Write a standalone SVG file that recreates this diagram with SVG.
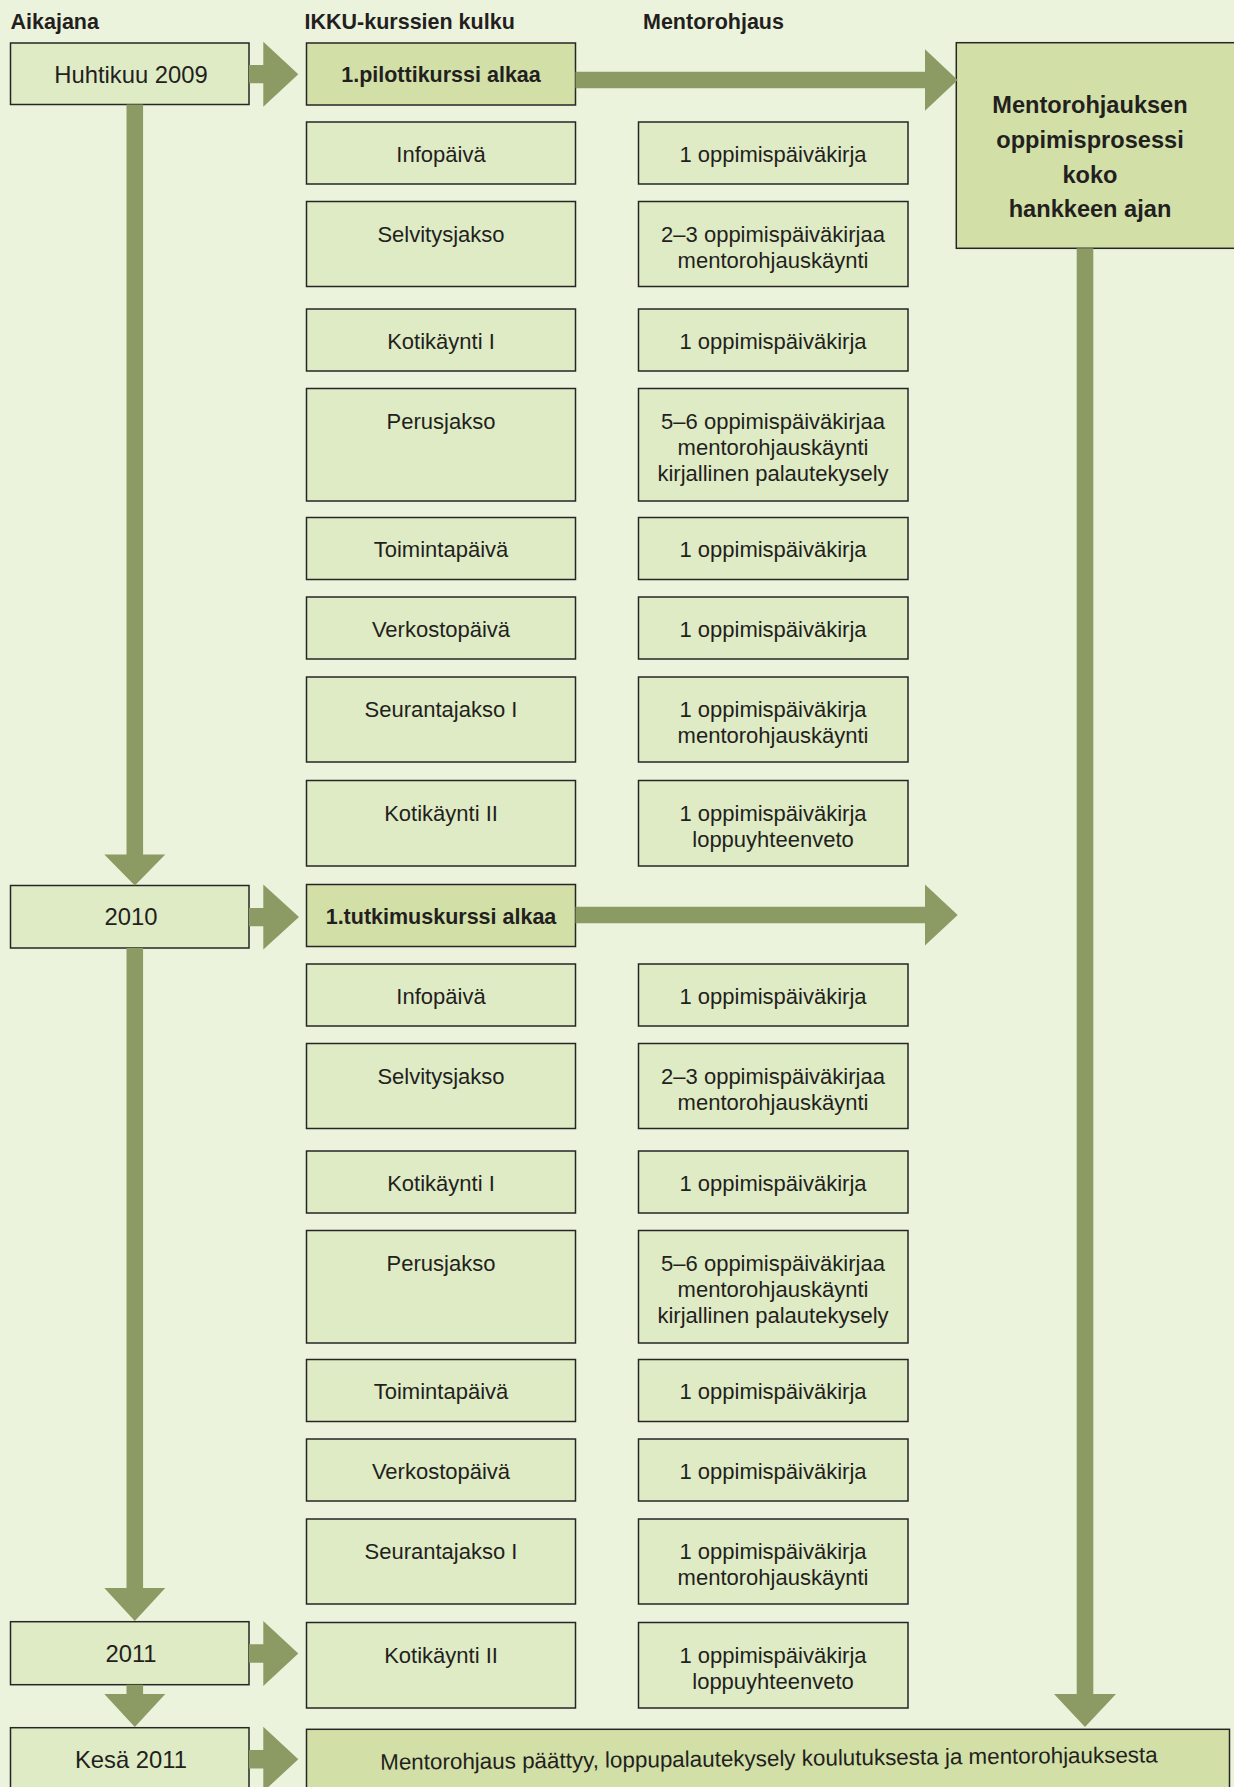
<svg xmlns="http://www.w3.org/2000/svg" width="1234" height="1787" viewBox="0 0 1234 1787">
<style>
.bg{fill:#ECF3DC}
.box{fill:#DFEBC4;stroke:#262626;stroke-width:1.5}
.hbox{fill:#D2DFA7;stroke:#262626;stroke-width:1.5}
.arr{fill:#8C9B64}
text{font-family:"Liberation Sans",Arial,sans-serif;fill:#231F20}
.t{font-size:22px;text-anchor:middle}
.f{font-size:22.4px;text-anchor:middle}
.d{font-size:23.8px;text-anchor:middle}
.b{font-size:21.5px;font-weight:bold;text-anchor:middle}
.h{font-size:21.5px;font-weight:bold}
.big{font-size:23.6px;font-weight:bold;text-anchor:middle}
</style>
<rect class="bg" x="0" y="0" width="1234" height="1787"/>

<g id="headers">
<text class="h" x="10.5" y="29">Aikajana</text>
<text class="h" x="304.5" y="29">IKKU-kurssien kulku</text>
<text class="h" x="643" y="29">Mentorohjaus</text>
</g>

<!-- Timeline -->
<g id="t-huhtikuu"><rect class="box" x="10.5" y="43" width="238.5" height="61.5"/><text class="d" x="131" y="82.5">Huhtikuu 2009</text></g>
<g id="t-2010"><rect class="box" x="10.5" y="885.5" width="238.5" height="62.5"/><text class="d" x="131" y="925">2010</text></g>
<g id="t-2011"><rect class="box" x="10.5" y="1621.7" width="238.5" height="63"/><text class="d" x="131" y="1661.5">2011</text></g>
<g id="t-kesa"><rect class="box" x="10.5" y="1727.7" width="238.5" height="70"/><text class="d" x="131" y="1768">Kesä 2011</text></g>

<!-- Course column, section 1 -->
<g id="c1-start"><rect class="hbox" x="306.5" y="43" width="269" height="62"/><text class="b" x="441" y="82">1.pilottikurssi alkaa</text></g>
<g id="c1-info"><rect class="box" x="306.5" y="122" width="269" height="62"/><text class="t" x="441" y="161.5">Infopäivä</text></g>
<g id="c1-selv"><rect class="box" x="306.5" y="201.5" width="269" height="85"/><text class="t" x="441" y="241.5">Selvitysjakso</text></g>
<g id="c1-koti1"><rect class="box" x="306.5" y="309" width="269" height="62"/><text class="t" x="441" y="348.5">Kotikäynti I</text></g>
<g id="c1-perus"><rect class="box" x="306.5" y="388.5" width="269" height="112.5"/><text class="t" x="441" y="429">Perusjakso</text></g>
<g id="c1-toim"><rect class="box" x="306.5" y="517.5" width="269" height="62"/><text class="t" x="441" y="557">Toimintapäivä</text></g>
<g id="c1-verk"><rect class="box" x="306.5" y="597" width="269" height="62"/><text class="t" x="441" y="636.5">Verkostopäivä</text></g>
<g id="c1-seur"><rect class="box" x="306.5" y="677" width="269" height="85"/><text class="t" x="441" y="717">Seurantajakso I</text></g>
<g id="c1-koti2"><rect class="box" x="306.5" y="780.5" width="269" height="85.5"/><text class="t" x="441" y="820.5">Kotikäynti II</text></g>

<!-- Mentoring column, section 1 -->
<g id="m1-info"><rect class="box" x="638.5" y="122" width="269.5" height="62"/><text class="t" x="773" y="161.5">1 oppimispäiväkirja</text></g>
<g id="m1-selv"><rect class="box" x="638.5" y="201.5" width="269.5" height="85"/><text class="t" x="773" y="241.5">2–3 oppimispäiväkirjaa</text><text class="t" x="773" y="267.5">mentorohjauskäynti</text></g>
<g id="m1-koti1"><rect class="box" x="638.5" y="309" width="269.5" height="62"/><text class="t" x="773" y="348.5">1 oppimispäiväkirja</text></g>
<g id="m1-perus"><rect class="box" x="638.5" y="388.5" width="269.5" height="112.5"/><text class="t" x="773" y="429">5–6 oppimispäiväkirjaa</text><text class="t" x="773" y="455">mentorohjauskäynti</text><text class="t" x="773" y="481">kirjallinen palautekysely</text></g>
<g id="m1-toim"><rect class="box" x="638.5" y="517.5" width="269.5" height="62"/><text class="t" x="773" y="557">1 oppimispäiväkirja</text></g>
<g id="m1-verk"><rect class="box" x="638.5" y="597" width="269.5" height="62"/><text class="t" x="773" y="636.5">1 oppimispäiväkirja</text></g>
<g id="m1-seur"><rect class="box" x="638.5" y="677" width="269.5" height="85"/><text class="t" x="773" y="717">1 oppimispäiväkirja</text><text class="t" x="773" y="743">mentorohjauskäynti</text></g>
<g id="m1-koti2"><rect class="box" x="638.5" y="780.5" width="269.5" height="85.5"/><text class="t" x="773" y="820.5">1 oppimispäiväkirja</text><text class="t" x="773" y="846.5">loppuyhteenveto</text></g>

<!-- Course column, section 2 -->
<g id="c2-start"><rect class="hbox" x="306.5" y="884.5" width="269" height="62"/><text class="b" x="441" y="923.5">1.tutkimuskurssi alkaa</text></g>
<g id="c2-info"><rect class="box" x="306.5" y="964" width="269" height="62"/><text class="t" x="441" y="1003.5">Infopäivä</text></g>
<g id="c2-selv"><rect class="box" x="306.5" y="1043.5" width="269" height="85"/><text class="t" x="441" y="1083.5">Selvitysjakso</text></g>
<g id="c2-koti1"><rect class="box" x="306.5" y="1151" width="269" height="62"/><text class="t" x="441" y="1190.5">Kotikäynti I</text></g>
<g id="c2-perus"><rect class="box" x="306.5" y="1230.5" width="269" height="112.5"/><text class="t" x="441" y="1271">Perusjakso</text></g>
<g id="c2-toim"><rect class="box" x="306.5" y="1359.5" width="269" height="62"/><text class="t" x="441" y="1399">Toimintapäivä</text></g>
<g id="c2-verk"><rect class="box" x="306.5" y="1439" width="269" height="62"/><text class="t" x="441" y="1478.5">Verkostopäivä</text></g>
<g id="c2-seur"><rect class="box" x="306.5" y="1519" width="269" height="85"/><text class="t" x="441" y="1559">Seurantajakso I</text></g>
<g id="c2-koti2"><rect class="box" x="306.5" y="1622.5" width="269" height="85.5"/><text class="t" x="441" y="1662.5">Kotikäynti II</text></g>

<!-- Mentoring column, section 2 -->
<g id="m2-info"><rect class="box" x="638.5" y="964" width="269.5" height="62"/><text class="t" x="773" y="1003.5">1 oppimispäiväkirja</text></g>
<g id="m2-selv"><rect class="box" x="638.5" y="1043.5" width="269.5" height="85"/><text class="t" x="773" y="1083.5">2–3 oppimispäiväkirjaa</text><text class="t" x="773" y="1109.5">mentorohjauskäynti</text></g>
<g id="m2-koti1"><rect class="box" x="638.5" y="1151" width="269.5" height="62"/><text class="t" x="773" y="1190.5">1 oppimispäiväkirja</text></g>
<g id="m2-perus"><rect class="box" x="638.5" y="1230.5" width="269.5" height="112.5"/><text class="t" x="773" y="1271">5–6 oppimispäiväkirjaa</text><text class="t" x="773" y="1297">mentorohjauskäynti</text><text class="t" x="773" y="1323">kirjallinen palautekysely</text></g>
<g id="m2-toim"><rect class="box" x="638.5" y="1359.5" width="269.5" height="62"/><text class="t" x="773" y="1399">1 oppimispäiväkirja</text></g>
<g id="m2-verk"><rect class="box" x="638.5" y="1439" width="269.5" height="62"/><text class="t" x="773" y="1478.5">1 oppimispäiväkirja</text></g>
<g id="m2-seur"><rect class="box" x="638.5" y="1519" width="269.5" height="85"/><text class="t" x="773" y="1559">1 oppimispäiväkirja</text><text class="t" x="773" y="1585">mentorohjauskäynti</text></g>
<g id="m2-koti2"><rect class="box" x="638.5" y="1622.5" width="269.5" height="85.5"/><text class="t" x="773" y="1662.5">1 oppimispäiväkirja</text><text class="t" x="773" y="1688.5">loppuyhteenveto</text></g>

<!-- Big mentoring process box -->
<g id="process"><rect class="hbox" x="956.3" y="42.7" width="290" height="205.6"/>
<text class="big" x="1090" y="113">Mentorohjauksen</text>
<text class="big" x="1090" y="148">oppimisprosessi</text>
<text class="big" x="1090" y="182.5">koko</text>
<text class="big" x="1090" y="217">hankkeen ajan</text></g>

<!-- Final box -->
<g id="final"><rect class="hbox" x="306.5" y="1729.3" width="923" height="70"/>
<text class="f" x="769" y="1766" transform="rotate(-0.55 769 1766)">Mentorohjaus päättyy, loppupalautekysely koulutuksesta ja mentorohjauksesta</text></g>

<!-- Connectors -->
<g id="connectors" class="arr">
<path d="M126.5 104.5 H143.1 V854.5 H165.3 L134.8 885.5 L104.3 854.5 H126.5 Z"/>
<path d="M126.5 948 H143.1 V1588 H165.3 L134.8 1621 L104.3 1588 H126.5 Z"/>
<path d="M126.5 1684.7 H143.1 V1694 H165.3 L134.8 1727 L104.3 1694 H126.5 Z"/>
<path d="M1076.7 248.3 H1093.3 V1694 H1116 L1085 1727 L1054 1694 H1076.7 Z"/>
<path d="M249 65 H263.3 V41.7 L298.3 74.2 L263.3 106.7 V83.3 H249 Z"/>
<path d="M249 908 H263.3 V884.5 L299 917 L263.3 949.5 V926.3 H249 Z"/>
<path d="M249 1644.3 H263.3 V1621 L298.3 1653.5 L263.3 1686 V1662.7 H249 Z"/>
<path d="M249 1750 H263.3 V1726.7 L298.3 1759.2 L263.3 1791.7 V1768.4 H249 Z"/>
<path d="M575.5 71.7 H925 V49.3 L957.7 80 L925 110.7 V88.3 H575.5 Z"/>
<path d="M575.5 906.7 H925 V884.5 L957.7 915 L925 945.5 V923.3 H575.5 Z"/>
</g>
</svg>
